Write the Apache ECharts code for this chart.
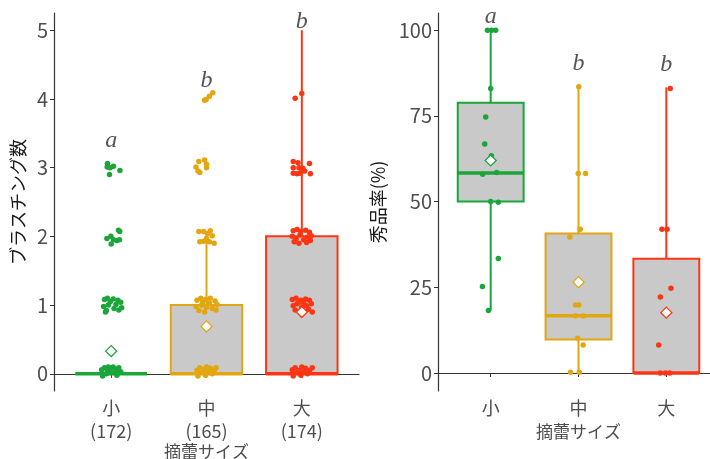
<!DOCTYPE html>
<html>
<head>
<meta charset="utf-8">
<script src="https://cdn.jsdelivr.net/npm/echarts@6/dist/echarts.min.js"></script>
<style>
  html, body { margin: 0; padding: 0; background: #fff; }
  #chart { width: 710px; height: 459px; }
</style>
</head>
<body>
<div id="chart"></div>
<script>
// 摘蕾サイズ
const sizes = ['小', '中', '大']
const counts = [172, 165, 174]
const colors = ['#1aa63a', '#e2a611', '#fc3614']

// ブラスチング数 : [x, 下ひげ, Q1, 中央値, Q3, 上ひげ]
const blastStats = [[1, 0, 0, 0, 0, 0], [2, 0, 0, 0, 1, 2], [3, 0, 0, 0, 2, 5]]
const blastMeans = [[1, 0.33], [2, 0.69], [3, 0.9]]
const blastLetters = [[1, 3.39, 'a'], [2, 4.26, 'b'], [3, 5.13, 'b']]
const blastTicks = [0, 1, 2, 3, 4, 5]

const blastSmall = [
  [0.961, 3.06], [0.989, 3.0], [1.024, 3.02], [0.982, 2.9], [1.092, 2.96], [0.958, 3.01],
  [1.077, 2.09], [1.09, 2.07], [0.955, 1.97], [0.997, 2.0], [1.024, 1.95], [1.06, 1.94], [1.0, 1.89], [1.087, 1.95],
  [0.93, 1.08], [0.96, 1.1], [1.02, 1.09], [1.07, 1.07], [1.1, 1.04], [0.92, 0.98], [0.97, 1.0],
  [1.03, 0.95], [1.08, 0.93], [0.95, 0.92], [1.11, 0.96], [0.99, 1.05], [1.05, 1.01], [0.94, 0.9],
  [0.9, 0.06], [0.93, 0.09], [0.96, 0.04], [0.99, 0.08], [1.02, 0.1], [1.05, 0.05], [1.08, 0.09],
  [1.1, 0.03], [0.95, 0.0], [1.0, 0.02], [1.06, -0.02], [0.91, -0.03], [1.04, 0.07], [0.97, 0.1]
]
const blastMid = [
  [2.066, 4.09], [2.03, 4.04], [1.997, 3.99], [1.979, 3.98],
  [1.92, 3.09], [1.98, 3.11], [1.89, 3.01], [2.0, 3.0], [1.93, 2.93], [1.91, 2.95], [2.0, 3.05],
  [1.92, 2.07], [1.97, 2.07], [2.04, 2.08], [2.06, 2.01], [2.0, 1.97], [1.93, 1.92], [1.97, 1.93],
  [2.08, 1.9], [2.03, 1.92], [2.01, 2.04],
  [1.9, 1.07], [1.94, 1.1], [1.99, 1.08], [2.04, 1.1], [2.09, 1.06], [2.11, 1.01], [1.89, 0.98],
  [1.95, 1.0], [2.0, 0.97], [2.06, 0.95], [1.92, 0.92], [1.98, 0.9], [2.03, 1.03], [2.1, 0.93], [1.96, 1.04],
  [1.9, 0.05], [1.93, 0.09], [1.97, 0.06], [2.0, 0.1], [2.04, 0.08], [2.08, 0.05], [2.1, 0.09],
  [1.95, 0.02], [2.02, 0.03], [2.06, 0.0], [1.99, -0.02], [1.91, -0.03]
]
const blastLarge = [
  [3.0, 4.08], [2.93, 4.01],
  [2.91, 3.09], [2.96, 3.07], [3.08, 3.06], [2.91, 3.0], [2.97, 3.0], [3.01, 2.99], [2.91, 2.92],
  [2.95, 2.91], [2.98, 2.92], [3.03, 2.95], [3.09, 2.91], [3.0, 2.95],
  [2.91, 2.08], [2.95, 2.1], [2.99, 2.07], [3.04, 2.09], [3.08, 2.06], [3.1, 2.01], [2.9, 2.0],
  [2.94, 1.97], [2.98, 2.02], [3.02, 1.95], [3.06, 1.99], [2.92, 1.92], [2.97, 1.9], [3.05, 1.91], [3.09, 1.94],
  [2.9, 1.08], [2.94, 1.1], [2.99, 1.07], [3.04, 1.09], [3.08, 1.07], [3.1, 1.02], [2.91, 0.99],
  [2.95, 1.02], [3.0, 0.97], [3.05, 0.99], [2.93, 0.93], [3.07, 0.94], [3.11, 0.9], [2.97, 1.04], [3.02, 1.03],
  [2.9, 0.06], [2.93, 0.09], [2.97, 0.05], [3.0, 0.1], [3.04, 0.08], [3.08, 0.05], [3.11, 0.09],
  [2.95, 0.02], [3.02, 0.03], [3.06, 0.0], [2.99, -0.02], [2.91, -0.03]
]

// 秀品率(%)
const rateStats = [[1, 18.2, 50, 58.3, 78.8, 100], [2, 0, 9.8, 16.7, 40.7, 83.5], [3, 0, 0, 0, 33.3, 83.3]]
const rateMeans = [[1, 62], [2, 26.5], [3, 17.6]]
const rateLetters = [[1, 103.9, 'a'], [2, 90.3, 'b'], [3, 89.8, 'b']]
const rateTicks = [0, 25, 50, 75, 100]

const rateSmall = [
  [0.963, 100], [1.011, 100], [1.057, 100], [1.0, 83], [0.943, 74.7], [0.932, 66.8], [1.008, 63.4],
  [0.909, 58], [1.068, 58.5], [1.0, 50], [1.087, 49.8], [1.087, 33.4], [0.906, 25.2], [0.974, 18.2]
]
const rateMid = [
  [2.003, 83.5], [1.997, 58.2], [2.08, 58.2], [2.02, 41.9], [1.901, 39.7], [1.966, 19.8], [2.003, 19.8],
  [1.966, 16.7], [2.053, 16.6], [1.99, 10.1], [2.053, 8.2], [1.909, 0.2], [2.01, 0.2]
]
const rateLarge = [
  [3.045, 83], [2.95, 41.9], [3.008, 41.9], [3.053, 24.7], [2.932, 22.2], [2.913, 8.2],
  [2.93, 0], [2.99, 0], [3.04, 0]
]

const chart = echarts.init(document.getElementById('chart'))
const jp = '"Noto Sans CJK JP", "Noto Sans", sans-serif'
const boxHalf = 0.375

function renderBox(params, api) {
  const x = api.value(0)
  const c = colors[Math.round(x) - 1]
  const lo = api.coord([x, api.value(1)])
  const q1 = api.coord([x, api.value(2)])
  const md = api.coord([x, api.value(3)])
  const q3 = api.coord([x, api.value(4)])
  const hi = api.coord([x, api.value(5)])
  const l = api.coord([x - boxHalf, api.value(2)])[0]
  const r = api.coord([x + boxHalf, api.value(2)])[0]
  return {
    type: 'group',
    children: [
      {type: 'line', shape: {x1: hi[0], y1: hi[1], x2: q3[0], y2: q3[1]}, style: {stroke: c, lineWidth: 2}},
      {type: 'line', shape: {x1: q1[0], y1: q1[1], x2: lo[0], y2: lo[1]}, style: {stroke: c, lineWidth: 2}},
      {type: 'rect', shape: {x: l, y: q3[1], width: r - l, height: q1[1] - q3[1]},
        style: {fill: '#c9c9c9', stroke: c, lineWidth: 2}},
      {type: 'line', shape: {x1: l, y1: md[1], x2: r, y2: md[1]}, style: {stroke: c, lineWidth: 3.5}}
    ]
  }
}

function xAxisOf(idx, withCount) {
  return {
    type: 'value', gridIndex: idx, min: 0.4, max: 3.6,
    name: '摘蕾サイズ', nameLocation: 'middle', nameGap: withCount ? 52 : 32, nameMoveOverlap: false,
    nameTextStyle: {color: '#4d4d4d', fontSize: 17, fontFamily: jp},
    axisLine: {show: true, lineStyle: {color: '#333', width: 1.2}},
    axisTick: {show: true, length: 4, customValues: [1, 2, 3], lineStyle: {color: '#333'}},
    splitLine: {show: false},
    axisLabel: {
      customValues: [1, 2, 3], color: '#4d4d4d', fontSize: 18, fontFamily: jp, margin: 6, lineHeight: 23,
      formatter: v => {
        const i = Math.round(v) - 1
        return withCount ? sizes[i] + '\n(' + counts[i] + ')' : sizes[i]
      }
    }
  }
}

function yAxisOf(idx, name, min, max, ticks, gap) {
  return {
    type: 'value', gridIndex: idx, min: min, max: max,
    name: name, nameLocation: 'middle', nameGap: gap, nameMoveOverlap: false,
    nameTextStyle: {color: '#1a1a1a', fontSize: 18, fontFamily: jp},
    axisLine: {show: true, lineStyle: {color: '#333', width: 1.2}},
    axisTick: {show: true, length: 4, customValues: ticks, lineStyle: {color: '#333'}},
    splitLine: {show: false},
    axisLabel: {customValues: ticks, color: '#4d4d4d', fontSize: 20, fontFamily: jp, margin: 6}
  }
}

function pointSeries(idx, pts, color) {
  return {
    type: 'scatter', xAxisIndex: idx, yAxisIndex: idx, z: 3,
    symbolSize: 5.5, itemStyle: {color: color, opacity: 1},
    data: pts, silent: true
  }
}

function meanSeries(idx, means) {
  return {
    type: 'scatter', xAxisIndex: idx, yAxisIndex: idx, z: 4,
    symbol: 'diamond', symbolSize: 11,
    data: means.map(m => ({
      value: m,
      itemStyle: {color: '#fff', borderColor: colors[m[0] - 1], borderWidth: 1.3, opacity: 1}
    })),
    silent: true
  }
}

function letterSeries(idx, letters) {
  return {
    type: 'scatter', xAxisIndex: idx, yAxisIndex: idx, z: 5, symbolSize: 0,
    data: letters.map(t => ({value: [t[0], t[1]], name: t[2]})),
    label: {
      show: true, position: 'inside', formatter: p => p.name,
      fontFamily: '"Liberation Serif", "DejaVu Serif", serif', fontStyle: 'italic',
      fontSize: 24, color: '#2b2b2b'
    },
    silent: true
  }
}

const option = {
  animation: false,
  backgroundColor: '#fff',
  grid: [
    {left: 54, top: 13, width: 305, height: 378, outerBoundsMode: 'none', containLabel: false},
    {left: 438, top: 13, width: 281, height: 378, outerBoundsMode: 'none', containLabel: false}
  ],
  xAxis: [xAxisOf(0, true), xAxisOf(1, false)],
  yAxis: [
    yAxisOf(0, 'ブラスチング数', -0.25, 5.25, blastTicks, 27),
    yAxisOf(1, '秀品率(%)', -5.25, 105, rateTicks, 51)
  ],
  series: [
    {type: 'custom', xAxisIndex: 0, yAxisIndex: 0, z: 2, renderItem: renderBox, data: blastStats, silent: true},
    {type: 'custom', xAxisIndex: 1, yAxisIndex: 1, z: 2, renderItem: renderBox, data: rateStats, silent: true},
    pointSeries(0, blastSmall, colors[0]),
    pointSeries(0, blastMid, colors[1]),
    pointSeries(0, blastLarge, colors[2]),
    pointSeries(1, rateSmall, colors[0]),
    pointSeries(1, rateMid, colors[1]),
    pointSeries(1, rateLarge, colors[2]),
    meanSeries(0, blastMeans),
    meanSeries(1, rateMeans),
    letterSeries(0, blastLetters),
    letterSeries(1, rateLetters)
  ]
}
chart.setOption(option)
</script>
</body>
</html>
